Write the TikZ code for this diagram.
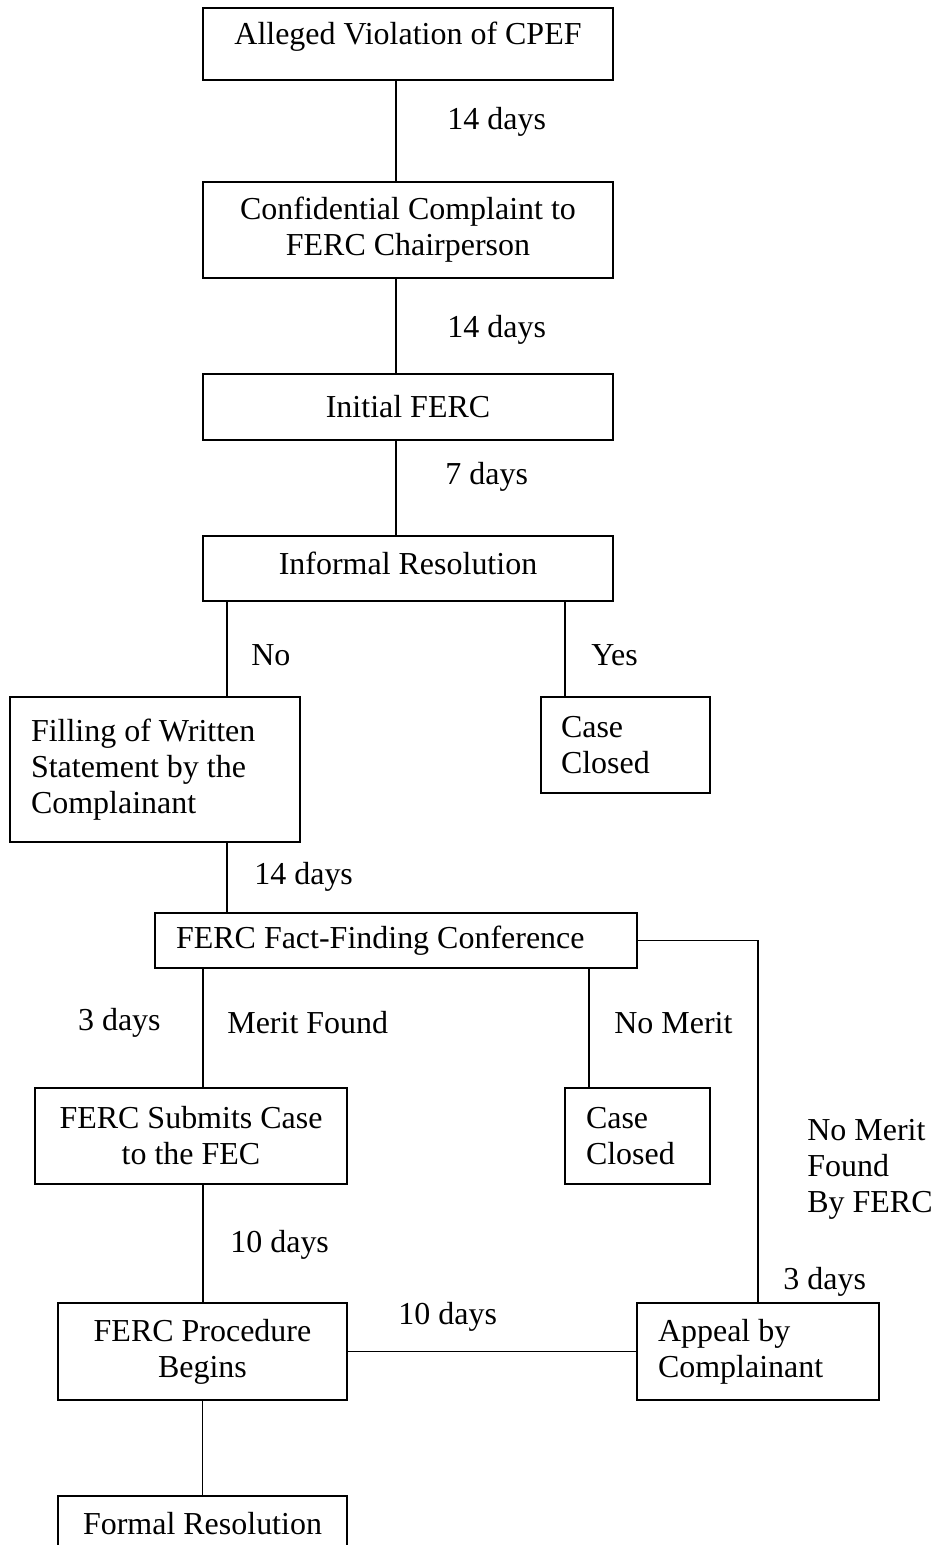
\documentclass[tikz,border=0pt]{standalone}
\usepackage{fontspec}
\setmainfont{Liberation Serif}
\begin{document}
\begin{tikzpicture}[x=0.02cm, y=-0.02cm, font=\fontsize{18.2}{20.5}\selectfont,
          stage/.style={draw, line width=0.8pt, inner sep=0pt, align=center, minimum height=1.92cm},
          stageL/.style={draw, line width=0.8pt, inner ysep=0pt, inner xsep=0.42cm, align=flush left, minimum height=1.92cm},
          lab/.style={inner sep=0pt, anchor=west, align=left},
          link/.style={line width=0.6pt}]
        \clip (0,0) rectangle (931,1545);
        \node[stage, minimum width=8.2cm, minimum height=1.44cm, text depth=0.44cm] (viol) at (408,44) {Alleged Violation of CPEF};
        \node[stage, minimum width=8.2cm] (compl) at (408,230) {Confidential Complaint to\\FERC Chairperson};
        \node[stage, minimum width=8.2cm, minimum height=1.32cm] (init) at (408,407) {Initial FERC};
        \node[stage, minimum width=8.2cm, minimum height=1.3cm, text depth=0.2cm] (informal) at (408,568.5) {Informal Resolution};
        \node[stageL, text width=4.96cm, minimum height=2.9cm] (filing) at (155,769.5) {Filling of Written\\Statement by the\\Complainant};
        \node[stageL, inner xsep=0.4cm, text width=2.58cm] (closedA) at (625.5,745) {Case\\Closed};
        \node[stageL, text width=8.8cm, minimum height=1.1cm] (fact) at (396,940.5) {FERC Fact-Finding Conference};
        \node[stage, minimum width=6.24cm] (submit) at (191,1136) {FERC Submits Case\\to the FEC};
        \node[stageL, text width=2.06cm] (closedB) at (637.5,1136) {Case\\Closed};
        \node[stage, minimum width=5.78cm, minimum height=1.94cm] (proc) at (202.5,1351.5) {FERC Procedure\\Begins};
        \node[stageL, text width=4.0cm, minimum height=1.94cm] (appeal) at (758,1351.5) {Appeal by\\Complainant};
        \node[stage, minimum width=5.78cm, minimum height=1.12cm] (formal) at (202.5,1524) {Formal Resolution};
        \coordinate (xa) at (396,0);
        \coordinate (xb) at (227,0);
        \coordinate (xc) at (565,0);
        \coordinate (xd) at (203,0);
        \coordinate (xe) at (589,0);
        \node[lab] (d1) at (447,122) {14 days};
        \node[lab] (d2) at (447,330) {14 days};
        \node[lab] (d3) at (445,477) {7 days};
        \node[lab] (no) at (251,655) {No};
        \node[lab] (yes) at (591,655) {Yes};
        \node[lab] (d4) at (254,877) {14 days};
        \node[lab, anchor=east] (d5) at (161,1023) {3 days};
        \node[lab] (merit) at (227,1023) {Merit Found};
        \node[lab] (nomerit) at (614,1023) {No Merit};
        \node[lab] (nmferc) at (807,1169) {No Merit\\Found\\By FERC};
        \node[lab] (d6) at (230,1245) {10 days};
        \node[lab] (d7) at (783,1282) {3 days};
        \node[lab] (d8) at (398,1317) {10 days};
        \draw[link] (viol.south -| xa) -- (compl.north -| xa);
        \draw[link] (compl.south -| xa) -- (init.north -| xa);
        \draw[link] (init.south -| xa) -- (informal.north -| xa);
        \draw[link] (informal.south -| xb) -- (filing.north -| xb);
        \draw[link] (informal.south -| xc) -- (closedA.north -| xc);
        \draw[link] (filing.south -| xb) -- (fact.north -| xb);
        \draw[link] (fact.south -| xd) -- (submit.north -| xd);
        \draw[link] (fact.south -| xe) -- (closedB.north -| xe);
        \draw[link] (fact.east) -| (appeal.north);
        \draw[link] (submit.south -| xd) -- (proc.north -| xd);
        \draw[link] (proc.east) -- (appeal.west);
        \draw[link] (proc.south) -- (formal.north);
      \end{tikzpicture}
\end{document}
